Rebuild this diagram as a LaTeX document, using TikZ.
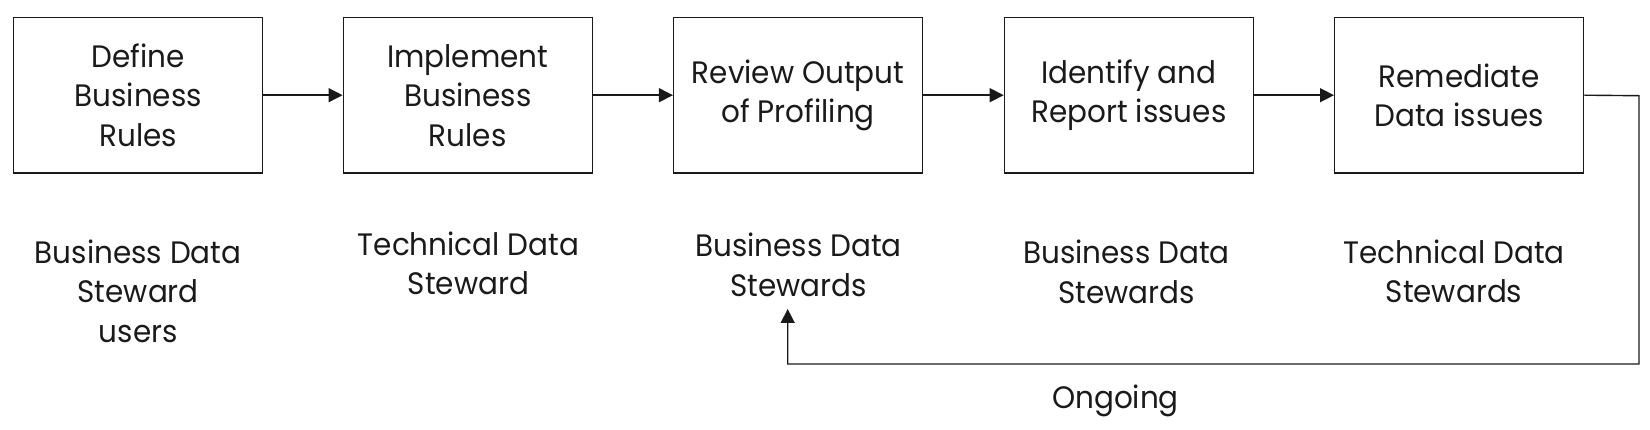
\documentclass[tikz,border=0pt]{standalone}
\usepackage{fontspec}
\setmainfont{Poppins}[FakeStretch=0.95]
\usetikzlibrary{arrows.meta}
\definecolor{ink}{HTML}{1A1A1A}
\tikzset{
  stepbox/.style={draw=ink, line width=1.4pt, minimum width=249pt, minimum height=155.7pt, inner sep=0pt, align=center, text=ink},
  lbl/.style={align=center, inner sep=0pt, text=ink},
  flow/.style={draw=ink, line width=1.4pt, -{Triangle[length=14pt,width=14pt]}},
}
\begin{document}
\begin{tikzpicture}[x=1pt,y=-1pt, font=\fontsize{31}{39.5}\selectfont]
\useasboundingbox (0,0) rectangle (1650,430);
\node[stepbox] (b1) at (138.2,95.2) {Define\\Business\\Rules};
\node[stepbox] (b2) at (467.8,95.2) {Implement\\Business\\Rules};
\node[stepbox] (b3) at (798.1,95.2) {Review Output\\of Profiling};
\node[stepbox] (b4) at (1128.9,95.2) {Identify and\\Report issues};
\node[stepbox] (b5) at (1459.2,95.2) {Remediate\\Data issues};
\node[lbl] (l1) at (138.2,291) {Business Data\\Steward\\users};
\node[lbl] (l2) at (468.5,263.5) {Technical Data\\Steward};
\node[lbl] (l3) at (798.5,265) {Business Data\\Stewards};
\node[lbl] (l4) at (1126.4,272) {Business Data\\Stewards};
\node[lbl] (l5) at (1454,271.5) {Technical Data\\Stewards};
\node[lbl, anchor=base] (on) at (1115.5,408) {Ongoing};
\draw[flow] (b1) -- (b2);
\draw[flow] (b2) -- (b3);
\draw[flow] (b3) -- (b4);
\draw[flow] (b4) -- (b5);
\coordinate (c1) at (1639,95.7);
\coordinate (c2) at (1639,364);
\coordinate (c3) at (787.7,364);
\coordinate (tip) at (787.7,309);
\draw[flow] (b5.east) -- (c1) -- (c2) -- (c3) -- (tip);
\end{tikzpicture}
\end{document}
